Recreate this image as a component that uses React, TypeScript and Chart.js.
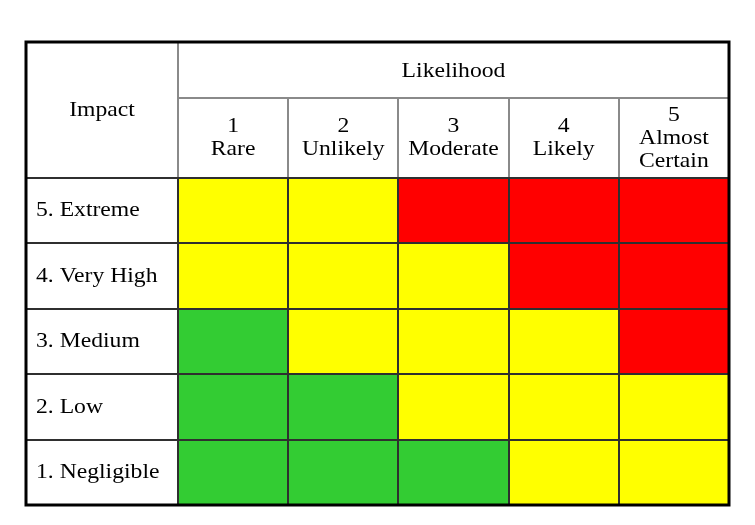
import React, { useEffect, useRef } from 'react';
import { Chart, registerables } from 'chart.js';

Chart.register(...registerables);

// Column headers (likelihood), left to right
const likelihoodLabels: string[][] = [
  ['1', 'Rare'],
  ['2', 'Unlikely'],
  ['3', 'Moderate'],
  ['4', 'Likely'],
  ['5', 'Almost', 'Certain'],
];
// Row headers (impact), bottom to top
const impactLabels: string[] = ['1. Negligible', '2. Low', '3. Medium', '4. Very High', '5. Extreme'];
// Risk level of each cell, rows bottom to top, columns left to right
const riskRows: string[][] = [
  ['L', 'L', 'L', 'M', 'M'],
  ['L', 'L', 'M', 'M', 'M'],
  ['L', 'M', 'M', 'M', 'H'],
  ['M', 'M', 'M', 'H', 'H'],
  ['M', 'M', 'H', 'H', 'H'],
];
// each cell spans one unit of the impact axis
const cellSpan: number[] = [1, 1, 1, 1, 1];
const likelihoodTitle = 'Likelihood';
const impactTitle = 'Impact';

const riskColors: Record<string, string> = { L: '#33CC33', M: '#FFFF00', H: '#FF0000' };

const FONT = "21.5px 'Liberation Serif', 'Times New Roman', serif";
const SX = 1.1;
const TABLE_LEFT = 26;
const TABLE_TOP = 42;
const BAND_BOTTOM = 98;
const LINE_H = 23;

function drawText(ctx: CanvasRenderingContext2D, text: string, x: number, y: number, align: CanvasTextAlign) {
  ctx.save();
  ctx.translate(x, y);
  ctx.scale(SX, 1);
  ctx.textAlign = align;
  ctx.textBaseline = 'middle';
  ctx.fillText(text, 0, 0);
  ctx.restore();
}

const tablePlugin = {
  id: 'riskTable',
  afterDatasetsDraw(chart: any) {
    const { ctx, chartArea, scales } = chart;
    const xs = scales.x;
    const ys = scales.y;
    const n = likelihoodLabels.length;
    const colW = (chartArea.right - chartArea.left) / n;
    const colEdges: number[] = [];
    for (let i = 0; i < n; i++) colEdges.push(Math.round(xs.getPixelForValue(i) - colW / 2));
    colEdges.push(Math.round(xs.getPixelForValue(n - 1) + colW / 2));
    const rowEdges: number[] = [];
    let acc = 0;
    rowEdges.push(Math.round(ys.getPixelForValue(0)));
    for (let k = 0; k < impactLabels.length; k++) {
      acc += cellSpan[k];
      rowEdges.push(Math.round(ys.getPixelForValue(acc)));
    }
    const top = Math.round(chartArea.top);

    ctx.save();
    // header lines (gray)
    ctx.strokeStyle = '#8a8a8a';
    ctx.lineWidth = 2;
    ctx.beginPath();
    ctx.moveTo(colEdges[0], TABLE_TOP);
    ctx.lineTo(colEdges[0], top);
    ctx.moveTo(colEdges[0], BAND_BOTTOM);
    ctx.lineTo(colEdges[n], BAND_BOTTOM);
    for (let i = 1; i < n; i++) {
      ctx.moveTo(colEdges[i], BAND_BOTTOM);
      ctx.lineTo(colEdges[i], top);
    }
    ctx.stroke();

    // body grid lines (dark)
    ctx.strokeStyle = '#2f2f2f';
    ctx.beginPath();
    for (let k = 1; k < rowEdges.length; k++) {
      ctx.moveTo(TABLE_LEFT, rowEdges[k]);
      ctx.lineTo(colEdges[n], rowEdges[k]);
    }
    for (let i = 0; i < n; i++) {
      ctx.moveTo(colEdges[i], top);
      ctx.lineTo(colEdges[i], rowEdges[0]);
    }
    ctx.stroke();

    // texts
    ctx.fillStyle = '#000000';
    ctx.font = FONT;
    drawText(ctx, likelihoodTitle, (colEdges[0] + colEdges[n]) / 2, (TABLE_TOP + BAND_BOTTOM) / 2 + 1, 'center');
    drawText(ctx, impactTitle, (TABLE_LEFT + colEdges[0]) / 2, (TABLE_TOP + top) / 2, 'center');
    const subMid = (BAND_BOTTOM + top) / 2;
    likelihoodLabels.forEach((lines, i) => {
      const cx = xs.getPixelForValue(i);
      const y0 = subMid - ((lines.length - 1) * LINE_H) / 2;
      lines.forEach((t, j) => drawText(ctx, t, cx, y0 + j * LINE_H, 'center'));
    });
    impactLabels.forEach((label, k) => {
      const cy = (rowEdges[k] + rowEdges[k + 1]) / 2;
      drawText(ctx, label, 36, cy, 'left');
    });

    // outer border
    ctx.strokeStyle = '#000000';
    ctx.lineWidth = 3;
    ctx.strokeRect(TABLE_LEFT, TABLE_TOP, colEdges[n] - TABLE_LEFT, rowEdges[0] - TABLE_TOP);
    ctx.restore();
  },
};

export default function App() {
  const ref = useRef<HTMLCanvasElement | null>(null);
  useEffect(() => {
    if (!ref.current) return;
    const datasets = riskRows.map((row, k) => ({
      label: impactLabels[k],
      data: row.map(() => cellSpan[k]),
      backgroundColor: row.map((r) => riskColors[r]),
      borderWidth: 0,
      barPercentage: 1,
      categoryPercentage: 1,
    }));
    const chart = new Chart(ref.current, {
      type: 'bar',
      data: { labels: likelihoodLabels.map((l) => l.join(' ')), datasets },
      options: {
        animation: false,
        responsive: true,
        maintainAspectRatio: false,
        layout: { padding: { left: 178, top: 178, right: 26, bottom: 20 } },
        plugins: { legend: { display: false }, tooltip: { enabled: false } },
        scales: {
          x: { stacked: true, display: false },
          y: { stacked: true, display: false, min: 0, max: 5 },
        },
      },
      plugins: [tablePlugin],
    });
    return () => chart.destroy();
  }, []);
  return (
    <div style={{ position: 'fixed', left: 0, top: 0, width: 755, height: 525, background: '#ffffff' }}>
      <canvas ref={ref} />
    </div>
  );
}
